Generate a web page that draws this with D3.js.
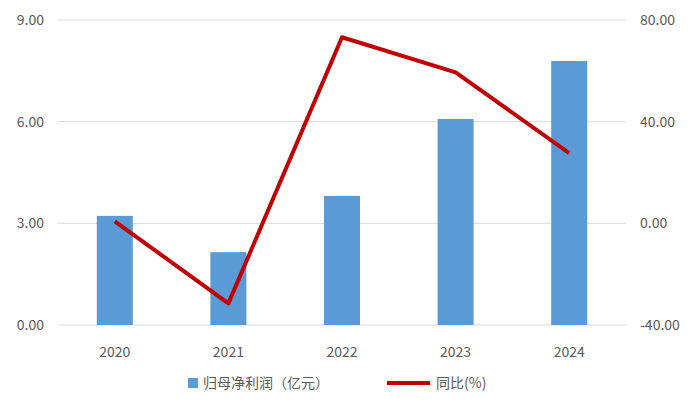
<!DOCTYPE html>
<html><head><meta charset="utf-8">
<script src="https://cdn.jsdelivr.net/npm/d3@7"></script>
<style>body{margin:0;background:#fff}text{font-family:"Noto Sans CJK SC","Noto Sans",sans-serif}</style>
</head><body><svg id="c" width="700" height="416"></svg>
<script>
var years = ["2020","2021","2022","2023","2024"];
var profit = [3.22, 2.15, 3.81, 6.08, 7.79];
var yoy = [0.8, -31.5, 73.2, 59.4, 27.6];
var leftTicks = [0, 3, 6, 9];
var rightTicks = [-40, 0, 40, 80];

var svg = d3.select("#c");
var x = d3.scaleBand().domain(years).range([58, 626]);
var yL = d3.scaleLinear().domain([0, 9]).range([325, 20]);
var yR = d3.scaleLinear().domain([-40, 80]).range([325, 20]);

svg.append("g").selectAll("line").data(leftTicks).join("line")
  .attr("x1", 58).attr("x2", 626)
  .attr("y1", d => yL(d)).attr("y2", d => yL(d))
  .attr("stroke", "#d9d9d9");

svg.append("g").selectAll("text").data(leftTicks).join("text")
  .attr("x", 44).attr("y", d => yL(d) + 5).attr("text-anchor", "end")
  .attr("font-size", 14).attr("fill", "#595959").text(d => d.toFixed(2));
svg.append("g").selectAll("text").data(rightTicks).join("text")
  .attr("x", 640).attr("y", d => yR(d) + 5)
  .attr("font-size", 14).attr("fill", "#595959").text(d => d.toFixed(2));

svg.append("g").selectAll("rect").data(profit).join("rect")
  .attr("x", (d, i) => x(years[i]) + x.bandwidth() / 2 - 18)
  .attr("width", 36)
  .attr("y", d => yL(d)).attr("height", d => yL(0) - yL(d))
  .attr("fill", "#5b9bd5");

svg.append("path").datum(yoy)
  .attr("fill", "none").attr("stroke", "#c00000").attr("stroke-width", 4)
  .attr("stroke-linejoin", "round")
  .attr("d", d3.line().x((d, i) => x(years[i]) + x.bandwidth() / 2).y(d => yR(d)));

svg.append("g").selectAll("text").data(years).join("text")
  .attr("x", d => x(d) + x.bandwidth() / 2).attr("y", 357)
  .attr("text-anchor", "middle").attr("font-size", 14).attr("fill", "#595959").text(d => d);

var lg = svg.append("g");
lg.append("rect").attr("x", 188).attr("y", 378).attr("width", 10).attr("height", 10).attr("fill", "#5b9bd5");
lg.append("text").attr("x", 203).attr("y", 388).attr("font-size", 14).attr("fill", "#595959").text("归母净利润（亿元）");
lg.append("line").attr("x1", 387).attr("x2", 430).attr("y1", 383).attr("y2", 383).attr("stroke", "#c00000").attr("stroke-width", 4);
lg.append("text").attr("x", 436).attr("y", 388).attr("font-size", 14).attr("fill", "#595959").text("同比(%)");
</script></body></html>
